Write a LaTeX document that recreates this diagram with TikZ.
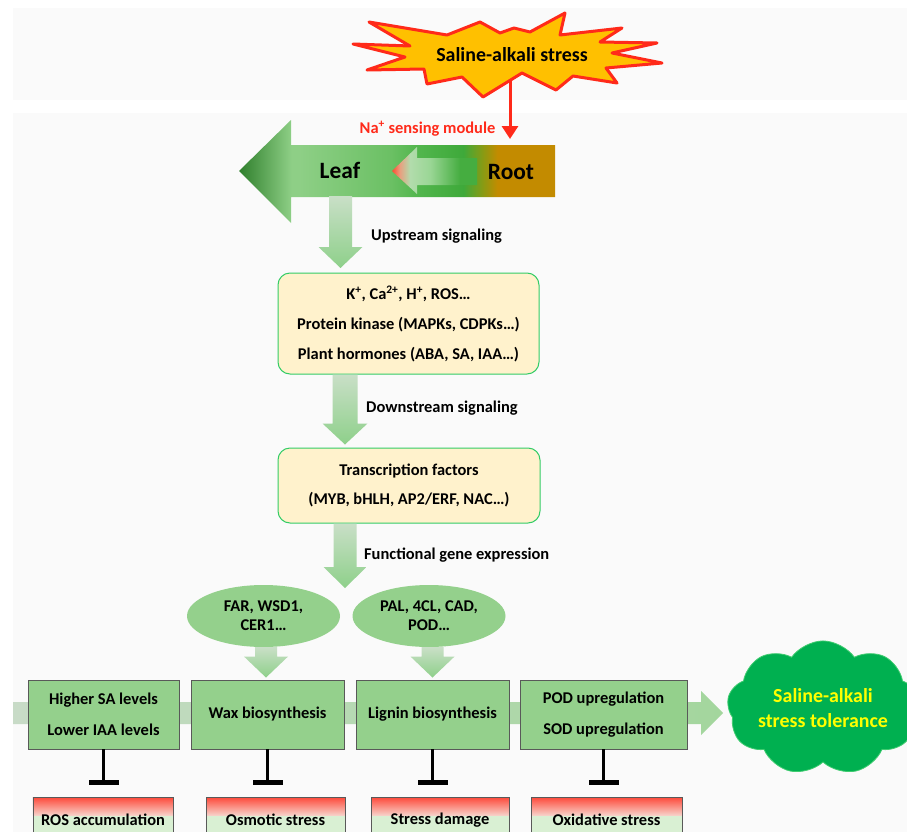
\documentclass[tikz,border=0pt]{standalone}
\usepackage{fontspec}
\setmainfont{Carlito}
\usetikzlibrary{calc,shapes.geometric,shapes.symbols,arrows.meta}
\definecolor{bggray}{HTML}{FAFAFA}
\definecolor{burstfill}{HTML}{FFC000}
\definecolor{burstred}{HTML}{FF2A1A}
\definecolor{creamfill}{HTML}{FFF2CC}
\definecolor{creamedge}{HTML}{33CC66}
\definecolor{gfill}{HTML}{94D08C}
\definecolor{gedge}{HTML}{595959}
\definecolor{arrtop}{HTML}{C9DFC7}
\definecolor{arrbot}{HTML}{8ED08A}
\definecolor{bandL}{HTML}{C8DBC7}
\definecolor{bandR}{HTML}{A3D69D}
\definecolor{cloudg}{HTML}{00B050}
\definecolor{cloude}{HTML}{40CC70}
\definecolor{paleg}{HTML}{D9F0D3}
\definecolor{rmid}{HTML}{F6E6DE}
\definecolor{tolyellow}{HTML}{FFFF00}
\definecolor{lrA}{HTML}{2F7F2C}
\definecolor{lrB}{HTML}{8ECF86}
\definecolor{lrC}{HTML}{6BC064}
\definecolor{lrD}{HTML}{52B64D}
\definecolor{lrE}{HTML}{3EA93A}
\definecolor{lrF}{HTML}{8C9A12}
\definecolor{lrG}{HTML}{C38B00}
\definecolor{inA}{HTML}{FF4A30}
\definecolor{inB}{HTML}{E8A080}
\definecolor{inC}{HTML}{B2DCAC}
\definecolor{inD}{HTML}{9AD695}
\definecolor{inE}{HTML}{45AD40}
\pgfdeclarehorizontalshading{leafroot}{100bp}{color(0bp)=(lrA); color(25bp)=(lrA); color(33.3bp)=(lrB); color(34.5bp)=(lrB); color(49bp)=(lrC); color(53.3bp)=(lrD); color(60.5bp)=(lrE); color(63.7bp)=(lrF); color(65.9bp)=(lrG); color(75bp)=(lrG); color(100bp)=(lrG)}
\pgfdeclarehorizontalshading{innerarrow}{100bp}{color(0bp)=(inA); color(25bp)=(inA); color(29.7bp)=(inB); color(35.6bp)=(inC); color(47.4bp)=(inD); color(65bp)=(inE); color(75bp)=(inE); color(100bp)=(inE)}
\newcommand\vfat[4]{%
  \shade[fat] ($(#1)+(-#3,0)$) -- ($(#1)+(#3,0)$) -- ($(#2)+(#3,-21)$) -- ($(#2)+(#4,-21)$) -- (#2) -- ($(#2)+(-#4,-21)$) -- ($(#2)+(-#3,-21)$) -- cycle;}
\begin{document}
\begin{tikzpicture}[x=1bp,y=-1bp,
  txt/.style={font=\bfseries\fontsize{16.5}{20}\selectfont, inner sep=0pt},
  cream/.style={draw=creamedge, fill=creamfill, rounded corners=12bp, line width=1bp, align=center, inner sep=0pt, font=\bfseries\fontsize{16.5}{30}\selectfont},
  gbox/.style={draw=gedge, fill=gfill, line width=0.9bp, align=center, inner sep=0pt, minimum height=69bp, font=\bfseries\fontsize{16.5}{31}\selectfont},
  rbox/.style={draw=gedge, fill=paleg, line width=0.9bp, inner sep=0pt, minimum height=46bp, font=\bfseries\fontsize{16.5}{20}\selectfont,
     path picture={\shade[top color=burstred, bottom color=paleg, middle color=rmid] ($(path picture bounding box.north west)+(0,-4)$) rectangle ($(path picture bounding box.north east)+(0,18)$);}},
  ell/.style={ellipse, fill=gfill, align=center, inner sep=0pt, minimum width=153bp, minimum height=62bp, font=\bfseries\fontsize{16.5}{19}\selectfont},
  inhib/.style={line width=3.5bp, -{Bar[width=30bp,line width=5bp]}, shorten >=12bp},
  redarr/.style={draw=burstred, line width=3bp, -{Triangle[width=16bp,length=13bp]}},
  fat/.style={top color=arrtop, bottom color=arrbot}
]
\clip (0,0) rectangle (907,832);
\fill[white] (0,0) rectangle (907,832);
\fill[bggray] (13,8) rectangle (907,100);
\fill[bggray] (13,113) rectangle (907,832);
% stress burst
\coordinate (burstbot) at (510,68);
\coordinate (rootin) at (510,139);
\draw[redarr] (burstbot) -- (rootin);
\filldraw[fill=burstfill, draw=burstred, line width=3bp, line join=round]
  (353,44) -- (410,46) -- (369,22) -- (447,35) -- (480,22) -- (500,33) -- (514,28) -- (530,32) -- (565,13) -- (560,35) -- (622,28) -- (600,42) -- (657,43) -- (612,53) -- (662,63) -- (606,68) -- (617,83) -- (573,76) -- (556,90) -- (522,73) -- (483,97) -- (462,77) -- (427,84) -- (424,69) -- (367,70) -- (405,57) -- cycle;
\node[font=\bfseries\fontsize{20}{24}\selectfont, inner sep=0pt] (stress) at (512,55) {Saline-alkali stress};
% leaf / root arrow
\shade[shading=leafroot] (239,171) -- (291,120) -- (291,145) -- (555,145) -- (555,197) -- (291,197) -- (291,223) -- cycle;
\shade[shading=innerarrow] (392,171) -- (417,147) -- (417,158) -- (477,158) -- (477,185) -- (417,185) -- (417,194) -- cycle;
\node[txt, text=burstred] (na) at (427.5,129) {Na\textsuperscript{+} sensing module};
\node[font=\bfseries\fontsize{23.5}{26}\selectfont, inner sep=0pt] (leaf) at (340,170) {Leaf};
\node[font=\bfseries\fontsize{23.5}{26}\selectfont, inner sep=0pt] (root) at (511,172) {Root};
% signalling boxes
\node[cream, minimum width=261bp, minimum height=101bp] (sig) at (408.5,323.5) {K\textsuperscript{+}, Ca\textsuperscript{2+}, H\textsuperscript{+}, ROS…\\Protein kinase (MAPKs, CDPKs…)\\Plant hormones (ABA, SA, IAA…)};
\node[cream, minimum width=262bp, minimum height=75bp] (tf) at (409,485.5) {Transcription factors\\(MYB, bHLH, AP2/ERF, NAC…)};
% fat arrows
\coordinate (a1s) at (340.5,196);
\coordinate (a1t) at (340.5,268);
\vfat{a1s}{a1t}{11.5}{22}
\node[txt, anchor=west] (up) at (371,236) {Upstream signaling};
\coordinate (colA) at (345,0);
\coordinate (a2s) at (sig.south -| colA);
\coordinate (a2t) at ($(tf.north -| colA)+(0,-3)$);
\vfat{a2s}{a2t}{12.5}{22.5}
\node[txt, anchor=west] (down) at (366,408) {Downstream signaling};
\coordinate (a3s) at (tf.south -| colA);
\coordinate (a3t) at (345,588);
\vfat{a3s}{a3t}{11.5}{21.5}
\node[txt, anchor=west] (func) at (364,555) {Functional gene expression};
% ellipses
\node[ell] (e1) at (263.5,616) {FAR, WSD1,\\CER1…};
\node[ell] (e2) at (429,616) {PAL, 4CL, CAD,\\POD…};
% band arrow
\coordinate (bandstart) at (13,713);
\shade[left color=bandL, right color=bandR] (bandstart) ++(0,-11) -- (701,702) -- (701,691) -- (723,713) -- (701,735) -- (701,724) -- (13,724) -- cycle;
% green boxes
\node[gbox, minimum width=151bp] (bA) at (103.5,714.5) {Higher SA levels\\Lower IAA levels};
\node[gbox, minimum width=153bp] (bB) at (267.5,714.5) {Wax biosynthesis};
\node[gbox, minimum width=153bp] (bC) at (432.5,714.5) {Lignin biosynthesis};
\node[gbox, minimum width=167bp] (bD) at (603.5,714.5) {POD upregulation\\SOD upregulation};
% ellipse arrows
\coordinate (colE1) at (266,0);
\coordinate (colE2) at (432.5,0);
\coordinate (e1s) at (e1.south -| colE1);
\coordinate (e1t) at ($(bB.north -| colE1)+(0,-2)$);
\vfat{e1s}{e1t}{11}{22}
\coordinate (e2s) at (e2.south -| colE2);
\coordinate (e2t) at ($(bC.north -| colE2)+(0,-2)$);
\vfat{e2s}{e2t}{11}{22}
% cloud
\node[cloud, cloud puffs=9, cloud puff arc=110, aspect=1.7, fill=cloudg, draw=cloude, line width=0.8bp, minimum width=160bp, minimum height=100bp, align=center, text=tolyellow, inner sep=0pt, font=\bfseries\fontsize{20}{25}\selectfont] (tol) at (823,708) {Saline-alkali\\stress tolerance};
% stress boxes
\node[rbox, minimum width=140bp] (rA) at (103,820) {ROS accumulation};
\node[rbox, minimum width=139bp] (rB) at (275.5,820) {Osmotic stress};
\node[rbox, minimum width=138bp] (rC) at (440,820) {Stress damage};
\node[rbox, minimum width=151bp] (rD) at (606.5,820) {Oxidative stress};
% inhibition
\draw[inhib] (bA.south) -- (bA.south |- rA.north);
\draw[inhib] (bB.south) -- (bB.south |- rB.north);
\draw[inhib] (bC.south) -- (bC.south |- rC.north);
\draw[inhib] (bD.south) -- (bD.south |- rD.north);
\end{tikzpicture}
\end{document}
